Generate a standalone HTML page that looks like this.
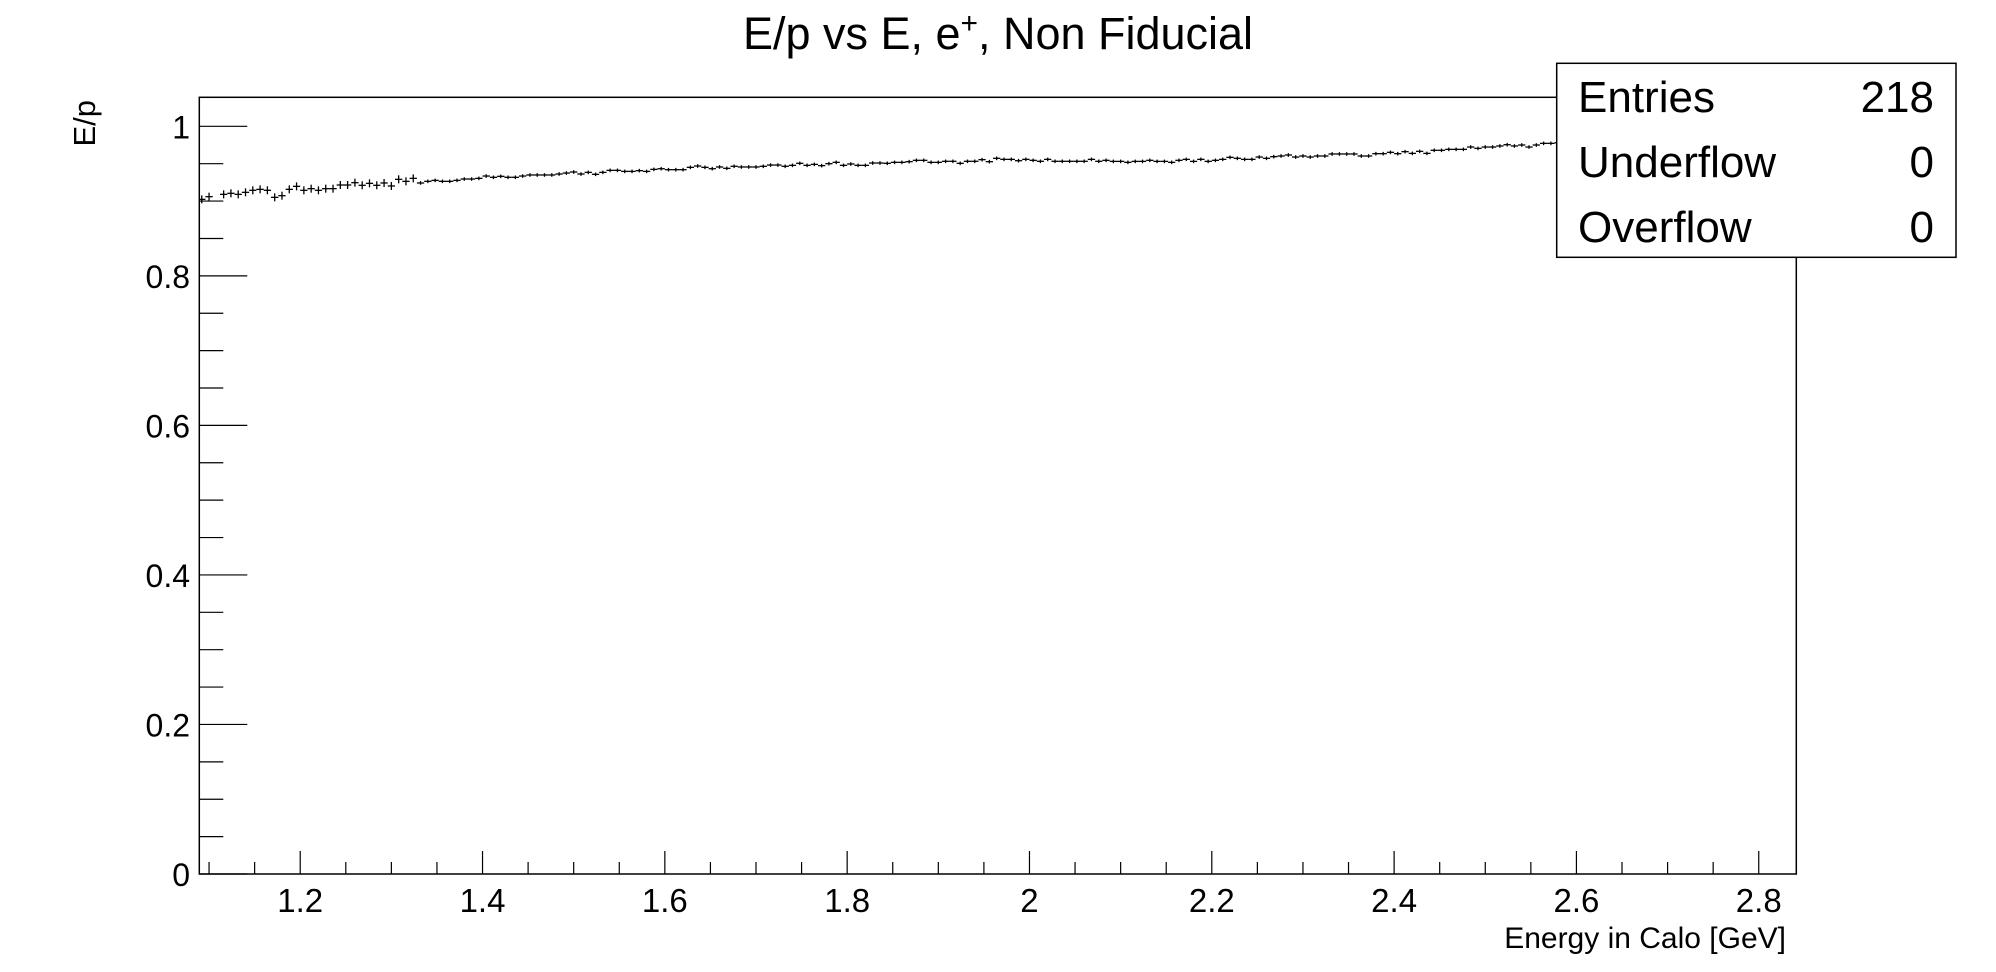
<!DOCTYPE html>
<html><head><meta charset="utf-8"><style>
html,body{margin:0;padding:0;background:#fff;}
svg{display:block;font-family:"Liberation Sans",Arial,sans-serif;}
</style></head><body>
<svg id="chart" width="1996" height="972" viewBox="0 0 1996 972" xmlns="http://www.w3.org/2000/svg">
<rect x="0" y="0" width="1996" height="972" fill="#fff"/>
<text x="998" y="49" text-anchor="middle" font-size="45" textLength="510" lengthAdjust="spacingAndGlyphs">E/p vs E, e<tspan dy="-16" font-size="30">+</tspan><tspan dy="16">, Non Fiducial</tspan></text>
<g id="axes"></g>
<g id="marks"></g>
<rect x="199.3" y="97.3" width="1597" height="776.7" fill="none" stroke="#000" stroke-width="1.5"/>
<text transform="translate(95,100) rotate(-90)" text-anchor="end" font-size="31">E/p</text>
<text x="1786" y="948" text-anchor="end" font-size="30">Energy in Calo [GeV]</text>
<g>
<rect x="1556.7" y="63.3" width="399.3" height="194" fill="#fff" stroke="#000" stroke-width="1.5"/>
<text x="1578" y="112" font-size="44">Entries</text>
<text x="1934" y="112" font-size="44" text-anchor="end">218</text>
<text x="1578" y="177" font-size="44">Underflow</text>
<text x="1934" y="177" font-size="44" text-anchor="end">0</text>
<text x="1578" y="242" font-size="44">Overflow</text>
<text x="1934" y="242" font-size="44" text-anchor="end">0</text>
</g>
</svg>
<script>
const binLow = 1.088;
const binWidth = 0.008;
const values = [0.9023,0.9059,null,0.9090,0.9104,0.9090,0.9117,0.9144,0.9157,0.9144,
0.9050,0.9072,0.9157,0.9197,0.9144,0.9166,0.9144,0.9166,0.9166,0.9215,
0.9215,0.9246,0.9211,0.9237,0.9211,0.9242,0.9202,0.9291,0.9264,0.9304,
0.9242,0.9264,0.9277,0.9264,0.9264,0.9277,0.9295,0.9295,0.9304,0.9335,
0.9318,0.9331,0.9318,0.9318,0.9335,0.9349,0.9349,0.9349,0.9349,0.9362,
0.9375,0.9389,0.9362,0.9384,0.9358,0.9384,0.9411,0.9411,0.9397,0.9397,
0.9407,0.9397,0.9424,0.9433,0.9420,0.9420,0.9420,0.9451,0.9469,0.9451,
0.9433,0.9456,0.9438,0.9465,0.9456,0.9456,0.9456,0.9465,0.9482,0.9482,
0.9465,0.9478,0.9505,0.9478,0.9491,0.9474,0.9500,0.9518,0.9478,0.9496,
0.9478,0.9478,0.9509,0.9509,0.9505,0.9518,0.9518,0.9527,0.9545,0.9545,
0.9518,0.9518,0.9532,0.9532,0.9505,0.9532,0.9532,0.9554,0.9527,0.9572,
0.9558,0.9558,0.9540,0.9558,0.9545,0.9532,0.9558,0.9532,0.9532,0.9532,
0.9532,0.9532,0.9558,0.9532,0.9545,0.9531,0.9531,0.9518,0.9531,0.9531,
0.9545,0.9531,0.9531,0.9518,0.9545,0.9558,0.9531,0.9558,0.9531,0.9545,
0.9558,0.9585,0.9572,0.9558,0.9558,0.9589,0.9572,0.9594,0.9603,0.9616,
0.9589,0.9603,0.9589,0.9603,0.9603,0.9630,0.9630,0.9630,0.9630,0.9603,
0.9603,0.9634,0.9634,0.9652,0.9634,0.9661,0.9638,0.9665,0.9638,0.9679,
0.9679,0.9692,0.9692,0.9692,0.9723,0.9705,0.9723,0.9723,0.9737,0.9754,
0.9737,0.9750,0.9723,0.9750,0.9772,0.9772,0.978,0.979,0.978,0.980,
0.981,0.980,0.982,0.983,0.982,0.984,0.985,0.984,0.986,0.987];
const xTicks = [1.2,1.4,1.6,1.8,2.0,2.2,2.4,2.6,2.8];
const xTickLabels = ["1.2","1.4","1.6","1.8","2","2.2","2.4","2.6","2.8"];
const yTicks = [0,0.2,0.4,0.6,0.8,1];
const yTickLabels = ["0","0.2","0.4","0.6","0.8","1"];

const X0=199.3,X1=1796.3,Y0=874,Y1=97.3;
const xMin=1.0893,xMax=2.8412,yMin=0,yMax=1.0388;
function xs(v){return X0+(v-xMin)/(xMax-xMin)*(X1-X0);}
function ys(v){return Y0-(v-yMin)/(yMax-yMin)*(Y0-Y1);}
const NS="http://www.w3.org/2000/svg";
const axes=document.getElementById('axes');
const marks=document.getElementById('marks');
function mk(tag,attrs,parent){const e=document.createElementNS(NS,tag);for(const k in attrs)e.setAttribute(k,attrs[k]);parent.appendChild(e);return e;}

for(let k=0;k<=40;k++){
  const v=1.1+k*0.05;
  if(v>xMax)break;
  const major=xTicks.some(t=>Math.abs(t-v)<1e-6);
  const l=mk('line',{x1:xs(v),x2:xs(v),y1:Y0,y2:Y0-(major?23:12),stroke:'#000','stroke-width':1.2},axes);
  
  
}
xTicks.forEach((v,i)=>{
  const t=mk('text',{x:xs(v),y:912,'text-anchor':'middle','font-size':33},axes);
  t.textContent=xTickLabels[i];
  
  
});
for(let k=0;k<=20;k++){
  const v=k*0.05;
  const major=yTicks.some(t=>Math.abs(t-v)<1e-6);
  const l=mk('line',{x1:X0,x2:X0+(major?48:24),y1:ys(v),y2:ys(v),stroke:'#000','stroke-width':1.2},axes);
  
  
}
yTicks.forEach((v,i)=>{
  const t=mk('text',{x:190,y:ys(v)+12,'text-anchor':'end','font-size':32},axes);
  t.textContent=yTickLabels[i];
  
  
});
values.forEach((v,i)=>{
  if(v===null)return;
  const lo=binLow+i*binWidth, hi=lo+binWidth, c=lo+binWidth/2;
  const xa=Math.max(xs(lo),X0), xb=Math.min(xs(hi),X1);
  if(xb<=X0)return;
  const g=mk('g',{},marks);
  
  
  const y=ys(v);
  mk('line',{x1:xa,x2:xb,y1:y,y2:y,stroke:'#000','stroke-width':1.3},g);
  const e=i<30?4:1.8;
  mk('line',{x1:xs(c),x2:xs(c),y1:y-e,y2:y+e,stroke:'#000','stroke-width':1.3},g);
});
</script>
</body></html>
